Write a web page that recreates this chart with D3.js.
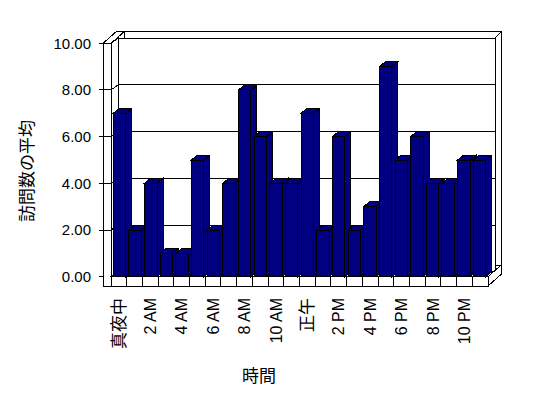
<!DOCTYPE html>
<html>
<head>
<meta charset="utf-8">
<script src="https://cdn.jsdelivr.net/npm/d3@7"></script>
<style>
  body { margin: 0; background: #fff; }
  svg { display: block; }
  .lbl { font-family: "Liberation Sans", Arial, sans-serif; font-size: 15px; }
  .jp { font-family: "Noto Sans CJK JP", sans-serif; }
</style>
</head>
<body>
<div id="canvas"></div>
<script>
// hours of the day (category axis)
var hours = ['真夜中', '1 AM', '2 AM', '3 AM', '4 AM', '5 AM', '6 AM', '7 AM', '8 AM', '9 AM', '10 AM', '11 AM',
             '正午', '1 PM', '2 PM', '3 PM', '4 PM', '5 PM', '6 PM', '7 PM', '8 PM', '9 PM', '10 PM', '11 PM'];
// average number of visits per hour
var visits = [7, 2, 4, 1, 1, 5, 2, 4, 8, 6, 4, 4, 7, 2, 6, 2, 3, 9, 5, 6, 4, 4, 5, 5];
// labels shown under the axis (every other hour)
var hourLabels = ['真夜中', '2 AM', '4 AM', '6 AM', '8 AM', '10 AM', '正午', '2 PM', '4 PM', '6 PM', '8 PM', '10 PM'];
var yTicks = [0, 2, 4, 6, 8, 10];
var xTitle = '時間', yTitle = '訪問数の平均';

var width = 548, height = 398;
var left = 111, right = 488, floorY = 276.7, topY = 43.3;
var D = [7, -5];      // depth of the plot area
var T = [6, -6.5];    // thickness of the back wall
var B = [6, -5];      // depth of a bar
var wallW = 8, floorH = 9.3;
var navy = '#000080';

var x = d3.scaleBand().domain(hours).range([left, right]).paddingInner(0.2).paddingOuter(0.14);
var y = d3.scaleLinear().domain([0, 10]).range([floorY, topY]);
var step = (right - left) / hours.length;

var svg = d3.select('#canvas').append('svg')
  .attr('width', width).attr('height', height);

var g = svg.append('g').attr('shape-rendering', 'crispEdges')
  .attr('stroke', '#000').attr('stroke-width', 1);

function poly(pts, fill) {
  return g.append('polygon')
    .attr('points', pts.map(function (p) { return p.join(','); }).join(' '))
    .attr('fill', fill || '#fff');
}
function line(x1, y1, x2, y2) {
  g.append('line').attr('x1', x1).attr('y1', y1).attr('x2', x2).attr('y2', y2);
}

var bx0 = left + D[0], bx1 = right + D[0];
var by0 = y(0) + D[1], by1 = y(10) + D[1];
var ox = D[0] + T[0], oy = D[1] + T[1];

// back wall (back face then front face)
poly([[left + ox, y(10) + oy], [right + ox, y(10) + oy], [right + ox, y(0) + oy], [left + ox, y(0) + oy]]);
line(bx1, by1, right + ox, y(10) + oy);
poly([[bx0, by1], [bx1, by1], [bx1, by0], [bx0, by0]]);
yTicks.forEach(function (t) { if (t > 0 && t < 10) line(bx0, y(t) + D[1], bx1, y(t) + D[1]); });

// left wall: top face, inner face, front face
poly([[left - wallW, y(10)], [left, y(10)], [left + ox, y(10) + oy], [left - wallW + ox, y(10) + oy]]);
poly([[left, y(10)], [bx0, by1], [bx0, by0], [left, y(0)]]);
yTicks.forEach(function (t) { if (t > 0 && t < 10) line(left, y(t), bx0, y(t) + D[1]); });
poly([[left - wallW, y(10)], [left, y(10)], [left, y(0) + floorH], [left - wallW, y(0) + floorH]]);

// floor: top face, right face, front face
poly([[left, y(0)], [bx0, by0], [bx1, by0], [right, y(0)]]);
poly([[right, y(0)], [right + ox, y(0) + oy], [right + ox, y(0) + oy + floorH], [right, y(0) + floorH]]);
poly([[left, y(0)], [right, y(0)], [right, y(0) + floorH], [left, y(0) + floorH]]);
d3.range(1, hours.length).forEach(function (i) {
  line(left + i * step, y(0), left + i * step, y(0) + floorH);
});

// y ticks
yTicks.forEach(function (t) {
  line(left - wallW - 4, y(t), left - wallW, y(t));
  if (t > 0 && t < 10) line(left - wallW, y(t), left, y(t));
});

// bars, left to right so each front face covers the previous side
hours.forEach(function (h, i) {
  var x0 = x(h), x1 = x(h) + x.bandwidth(), yt = y(visits[i]), yb = y(0);
  poly([[x1, yt], [x1 + B[0], yt + B[1]], [x1 + B[0], yb + B[1]], [x1, yb]], navy);
  poly([[x0, yt], [x1, yt], [x1 + B[0], yt + B[1]], [x0 + B[0], yt + B[1]]], navy);
  poly([[x0, yt], [x1, yt], [x1, yb], [x0, yb]], navy);
});

// y tick labels
svg.selectAll('text.ylab').data(yTicks).enter().append('text')
  .attr('class', 'lbl ylab').attr('fill', '#000')
  .attr('x', 91).attr('y', function (d) { return y(d); })
  .attr('dy', '0.35em').attr('text-anchor', 'end')
  .text(function (d) { return d3.format('.2f')(d); });

// x tick labels (rotated), centred on their category
svg.selectAll('text.xlab').data(hourLabels).enter().append('text')
  .attr('class', function (d) { return /[A-Z]/.test(d) ? 'lbl xlab' : 'jp xlab'; })
  .attr('fill', '#000')
  .style('font-size', function (d) { return /[A-Z]/.test(d) ? '16px' : '17px'; })
  .attr('text-anchor', 'end').attr('dy', '0.35em')
  .attr('transform', function (d) {
    return 'translate(' + (left + (hours.indexOf(d) + 0.5) * step) + ',298) rotate(-90)';
  })
  .text(function (d) { return d; });

// axis titles
svg.append('text').attr('class', 'jp').attr('fill', '#000').style('font-size', '17px')
  .attr('x', 259).attr('y', 382).attr('text-anchor', 'middle').text(xTitle);
svg.append('text').attr('class', 'jp').attr('fill', '#000').style('font-size', '17px')
  .attr('text-anchor', 'middle').attr('dy', '0.35em')
  .attr('transform', 'translate(27,171) rotate(-90)').text(yTitle);
</script>
</body>
</html>
